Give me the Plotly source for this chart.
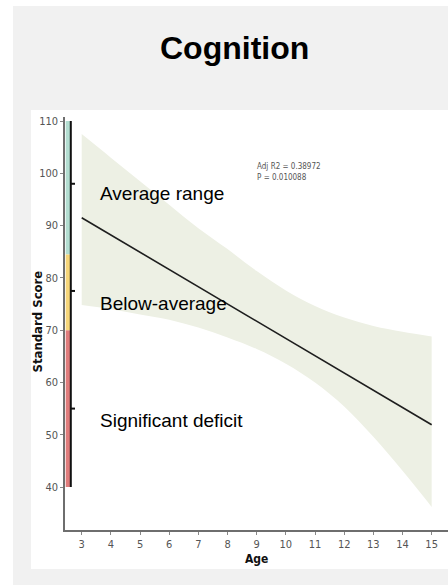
import plotly.graph_objects as go

# Fitted standard score by age with 95% confidence band
ages = [3, 4, 5, 6, 7, 8, 9, 10, 11, 12, 13, 14, 15]
fit = [91.5, 88.2, 84.9, 81.6, 78.3, 75.0, 71.7, 68.4, 65.1, 61.8, 58.5, 55.2, 51.9]
upper = [107.5, 103.0, 98.5, 94.0, 89.5, 85.5, 81.3, 77.6, 74.6, 72.4, 70.8, 69.7, 68.8]
lower = [74.8, 74.0, 73.0, 72.0, 70.5, 68.6, 66.4, 63.6, 60.0, 55.4, 49.6, 43.1, 36.2]

# Score bands drawn along the y axis
band_names = ["Significant deficit", "Below-average", "Average range"]
band_low = [40, 70, 84.5]
band_high = [70, 84.5, 110]
band_mid = [55, 77.5, 98]
band_colors = ["#e07c7c", "#f6d67a", "#b3ded1"]

stats_lines = ["Adj R2 = 0.38972", "P = 0.010088"]
y_ticks = [40, 50, 60, 70, 80, 90, 100, 110]
x_ticks = ages

W, H = 448, 585
L, R, T, B = 65, 0, 117, 55
XR = [2.427, 15.56]
YR = [31.78, 110.77]
pw, ph = W - L - R, H - T - B


def px_to_x(px):
    return XR[0] + (px - L) / pw * (XR[1] - XR[0])


def py_to_paper(py):
    return (H - B - py) / ph


def px_to_paper(px):
    return (px - L) / pw


narrow = "DejaVu Sans Condensed, Liberation Sans Narrow, sans-serif"
sans = "Liberation Sans, Arial, sans-serif"

fig = go.Figure()

fig.add_trace(go.Scatter(x=ages, y=lower, mode="lines", line=dict(width=0, shape="spline"),
                         hoverinfo="skip", showlegend=False))
fig.add_trace(go.Scatter(x=ages, y=upper, mode="lines", line=dict(width=0, shape="spline"),
                         fill="tonexty", fillcolor="#edf0e4",
                         hoverinfo="skip", showlegend=False))
fig.add_trace(go.Scatter(x=ages, y=fit, mode="lines",
                         line=dict(color="#1e1e1e", width=1.6),
                         showlegend=False))

shapes = [
    # outer grey frame and white panel
    dict(type="rect", xref="paper", yref="paper", layer="below",
         x0=px_to_paper(13), x1=px_to_paper(448), y0=py_to_paper(585), y1=py_to_paper(6),
         fillcolor="#f1f1f1", line=dict(width=0)),
    dict(type="rect", xref="paper", yref="paper", layer="below",
         x0=px_to_paper(31), x1=px_to_paper(448), y0=py_to_paper(569), y1=py_to_paper(110),
         fillcolor="#ffffff", line=dict(width=0)),
]

bx0, bx1 = px_to_x(65.7), px_to_x(70)
for lo, hi, col in zip(band_low, band_high, band_colors):
    shapes.append(dict(type="rect", xref="x", yref="y", x0=bx0, x1=bx1, y0=lo, y1=hi,
                       fillcolor=col, line=dict(width=0), layer="above"))

lx = px_to_x(70.8)
shapes.append(dict(type="line", xref="x", yref="y", x0=lx, x1=lx,
                   y0=min(band_low), y1=max(band_high),
                   line=dict(color="#111111", width=2)))
for m in band_mid:
    shapes.append(dict(type="line", xref="x", yref="y", x0=lx, x1=px_to_x(75), y0=m, y1=m,
                       line=dict(color="#111111", width=2)))

annotations = []
label_y_px = [420, 303, 193.5]
for name, ypx in zip(band_names, label_y_px):
    annotations.append(dict(text=name, xref="paper", yref="paper",
                            x=px_to_paper(98), y=py_to_paper(ypx),
                            xanchor="left", yanchor="middle", showarrow=False,
                            font=dict(family=sans, size=19, color="#000000")))

for line, ypx in zip(stats_lines, [166.5, 177.5]):
    annotations.append(dict(text=line, xref="paper", yref="paper",
                            x=px_to_paper(255), y=py_to_paper(ypx),
                            xanchor="left", yanchor="middle", showarrow=False,
                            font=dict(family=narrow, size=8, color="#555555")))

annotations.append(dict(text="<b>Cognition</b>", xref="paper", yref="paper",
                        x=px_to_paper(234), y=py_to_paper(48),
                        xanchor="center", yanchor="middle", showarrow=False,
                        font=dict(family=sans, size=32, color="#000000")))

annotations.append(dict(text="<b>Standard Score</b>", xref="paper", yref="paper",
                        x=px_to_paper(36.5), y=py_to_paper(322), textangle=-90,
                        xanchor="center", yanchor="middle", showarrow=False,
                        font=dict(family=narrow, size=13, color="#111111")))

annotations.append(dict(text="<b>Age</b>", xref="paper", yref="paper",
                        x=px_to_paper(256), y=py_to_paper(559),
                        xanchor="center", yanchor="middle", showarrow=False,
                        font=dict(family=narrow, size=12, color="#111111")))

fig.update_layout(
    width=W, height=H,
    margin=dict(l=L, r=R, t=T, b=B, pad=0),
    paper_bgcolor="#ffffff",
    plot_bgcolor="rgba(0,0,0,0)",
    shapes=shapes,
    annotations=annotations,
    showlegend=False,
    xaxis=dict(range=XR, tickvals=x_ticks, ticks="outside", ticklen=3, tickwidth=1,
               tickcolor="#888888", showline=True, linecolor="#6e6e6e", linewidth=1.5,
               showgrid=False, zeroline=False,
               tickfont=dict(family=narrow, size=11, color="#555555")),
    yaxis=dict(range=YR, tickvals=y_ticks, ticks="outside", ticklen=3, tickwidth=1,
               tickcolor="#888888", showline=True, linecolor="#6e6e6e", linewidth=1.5,
               showgrid=False, zeroline=False,
               tickfont=dict(family=narrow, size=11, color="#555555")),
)

fig.write_html("out.html")
